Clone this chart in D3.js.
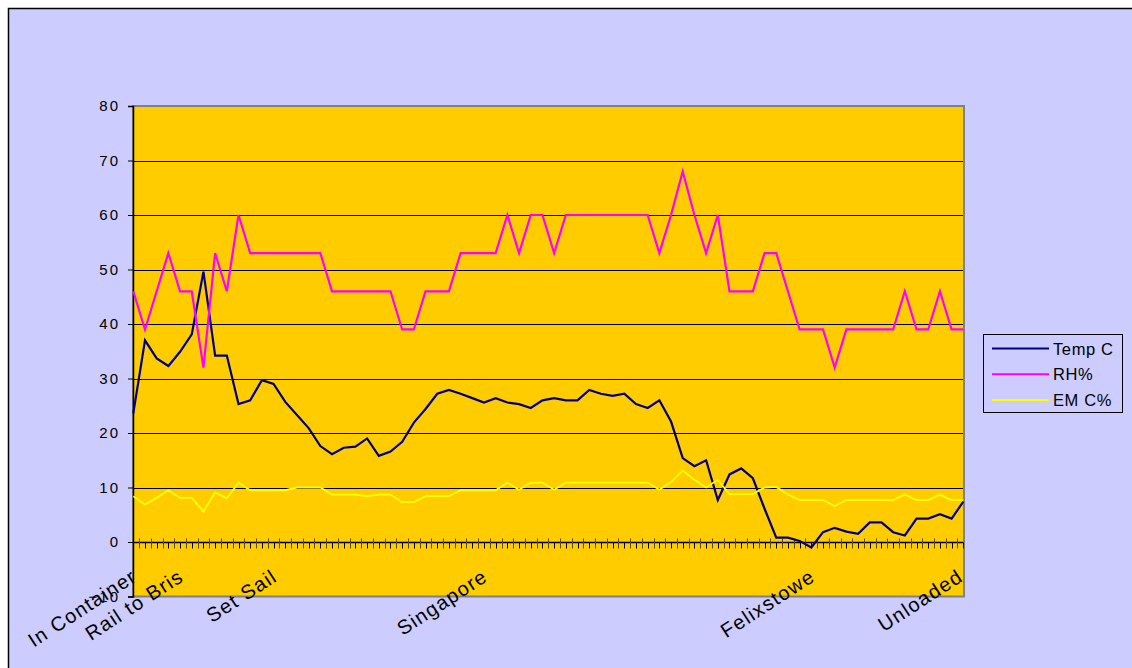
<!DOCTYPE html>
<html>
<head>
<meta charset="utf-8">
<script src="https://cdn.jsdelivr.net/npm/d3@7"></script>
<style>
  html, body { margin: 0; padding: 0; background: #fff; }
  svg { display: block; font-family: "Liberation Sans", Arial, sans-serif; }
</style>
</head>
<body>
<svg id="chart" width="1132" height="668"></svg>
<script>
// readings per logged stop, 72 of them
const tempC = [23.6, 37.0, 33.7, 32.3, 34.9, 38.1, 49.6, 34.2, 34.2, 25.3,
               26.0, 29.7, 29.0, 25.7, 23.3, 20.9, 17.6, 16.1, 17.3, 17.5,
               19.0, 15.8, 16.6, 18.4, 21.9, 24.4, 27.2, 27.9, 27.2, 26.4,
               25.6, 26.4, 25.6, 25.3, 24.6, 26.0, 26.4, 26.0, 26.0, 27.9,
               27.2, 26.8, 27.2, 25.3, 24.6, 26.0, 22.1, 15.4, 13.9, 15.0,
               7.7, 12.4, 13.5, 11.7, 6.1, 0.8, 0.8, 0.2, -1.0, 1.8,
               2.6, 1.9, 1.5, 3.6, 3.6, 1.8, 1.2, 4.3, 4.3, 5.1,
               4.3, 7.4];
const rh = [46, 39, 46, 53, 46, 46, 32, 53, 46, 60,
            53, 53, 53, 53, 53, 53, 53, 46, 46, 46,
            46, 46, 46, 39, 39, 46, 46, 46, 53, 53,
            53, 53, 60, 53, 60, 60, 53, 60, 60, 60,
            60, 60, 60, 60, 60, 53, 60, 68, 60, 53,
            60, 46, 46, 46, 53, 53, 46, 39, 39, 39,
            32, 39, 39, 39, 39, 39, 46, 39, 39, 46,
            39, 39];
const emc = [8.4, 6.9, 8.1, 9.5, 8.1, 8.1, 5.6, 9.1, 8.0, 10.9,
             9.5, 9.5, 9.5, 9.5, 10.0, 10.0, 10.0, 8.7, 8.7, 8.7,
             8.4, 8.7, 8.7, 7.3, 7.3, 8.4, 8.4, 8.4, 9.5, 9.5,
             9.5, 9.5, 10.9, 9.6, 10.9, 10.9, 9.6, 10.9, 10.9, 10.9,
             10.9, 10.9, 10.9, 10.9, 10.9, 9.6, 11.0, 13.1, 11.4, 10.0,
             11.4, 8.8, 8.8, 8.8, 10.0, 10.1, 8.7, 7.7, 7.7, 7.7,
             6.6, 7.7, 7.7, 7.7, 7.7, 7.7, 8.7, 7.7, 7.7, 8.7,
             7.7, 7.7];

const stopNames = ["In Container", "Rail to Bris", "Set Sail", "Singapore", "Felixstowe", "Unloaded"];
const stopIndex = [0, 4, 12, 30, 58, 71];

const yTicks = [-10, 0, 10, 20, 30, 40, 50, 60, 70, 80];

const series = [
  { name: "Temp C", values: tempC, color: "#000080" },
  { name: "RH%", values: rh, color: "#FF00FF" },
  { name: "EM C%", values: emc, color: "#FFFF00" }
];

const plot = { left: 133, right: 964, top: 106, bottom: 596.5 };

const svg = d3.select("#chart");

// chart area
svg.append("rect")
    .attr("x", 8.5).attr("y", 8.5)
    .attr("width", 1140).attr("height", 680)
    .attr("fill", "#CCCCFF")
    .attr("stroke", "#000")
    .attr("stroke-width", 1.5);

const x = d3.scaleLinear()
    .domain([0, tempC.length - 1])
    .range([plot.left + 0.3, plot.right - 0.7]);

const y = d3.scaleLinear()
    .domain([-10, 80])
    .range([plot.bottom, plot.top]);

svg.append("rect")
    .attr("x", plot.left).attr("y", plot.top)
    .attr("width", plot.right - plot.left)
    .attr("height", plot.bottom - plot.top)
    .attr("fill", "#FFCC00")
    .attr("stroke", "#808080")
    .attr("stroke-width", 2);

// gridlines
svg.append("g")
    .selectAll("line")
    .data(yTicks.filter(d => d > 0 && d < 80))
    .join("line")
    .attr("x1", plot.left).attr("x2", plot.right - 1)
    .attr("y1", d => Math.round(y(d)) + 0.5)
    .attr("y2", d => Math.round(y(d)) + 0.5)
    .attr("stroke", "#000")
    .attr("stroke-width", 1);

// y axis
const yAxis = svg.append("g")
    .attr("transform", `translate(${plot.left},0)`)
    .call(d3.axisLeft(y)
        .tickValues(yTicks)
        .tickSize(5)
        .tickPadding(12)
        .tickFormat(d3.format("d")));
yAxis.select(".domain").attr("stroke", "#000").attr("stroke-width", 1.5);
yAxis.selectAll(".tick line").attr("stroke", "#000");
yAxis.selectAll(".tick text")
    .attr("fill", "#000")
    .style("font-size", "15px")
    .style("letter-spacing", "2px")
    .attr("x", -13);

// category axis along zero
const halfSteps = d3.range(0, tempC.length - 0.5, 0.5);
const xAxis = svg.append("g")
    .attr("transform", `translate(0,${Math.round(y(0)) + 0.5})`);
xAxis.append("line")
    .attr("x1", plot.left).attr("x2", plot.right - 1)
    .attr("stroke", "#000").attr("stroke-width", 1.5);
xAxis.selectAll("line.tick")
    .data(halfSteps)
    .join("line")
    .attr("class", "tick")
    .attr("x1", d => Math.round(x(d)) + 0.5)
    .attr("x2", d => Math.round(x(d)) + 0.5)
    .attr("y1", (d, i) => i % 2 ? -4 : 0)
    .attr("y2", 6)
    .attr("stroke", (d, i) => i % 2 ? "#5a4a00" : "#000")
    .attr("stroke-width", 1);

// lines
const line = d3.line()
    .x((d, i) => x(i))
    .y(d => y(d));

svg.append("g")
    .selectAll("path")
    .data(series)
    .join("path")
    .attr("d", d => line(d.values))
    .attr("fill", "none")
    .attr("stroke", d => d.color)
    .attr("stroke-width", d => d.name === "EM C%" ? 1.8 : 2.2)
    .attr("stroke-linejoin", "miter");

// category labels
svg.append("g")
    .selectAll("text")
    .data(stopNames)
    .join("text")
    .attr("transform", (d, i) => `translate(${x(stopIndex[i]) + (i === stopNames.length - 1 ? 1 : 5)},580) rotate(-33)`)
    .attr("text-anchor", "end")
    .style("font-size", "20px")
    .style("letter-spacing", "1.3px")
    .attr("fill", "#000")
    .text(d => d);

// legend
const legend = svg.append("g");
legend.append("rect")
    .attr("x", 983.5).attr("y", 334.5)
    .attr("width", 139).attr("height", 78)
    .attr("fill", "#CCCCFF")
    .attr("stroke", "#000")
    .attr("stroke-width", 1);

const items = legend.selectAll("g")
    .data(series)
    .join("g")
    .attr("transform", (d, i) => `translate(0,${348.5 + i * 25.8})`);
items.append("line")
    .attr("x1", 992).attr("x2", 1049)
    .attr("stroke", d => d.color)
    .attr("stroke-width", 2);
items.append("text")
    .attr("x", 1053)
    .attr("y", 6)
    .style("font-size", "16.5px")
    .style("letter-spacing", "0.6px")
    .attr("fill", "#000")
    .text(d => d.name);
</script>
</body>
</html>
